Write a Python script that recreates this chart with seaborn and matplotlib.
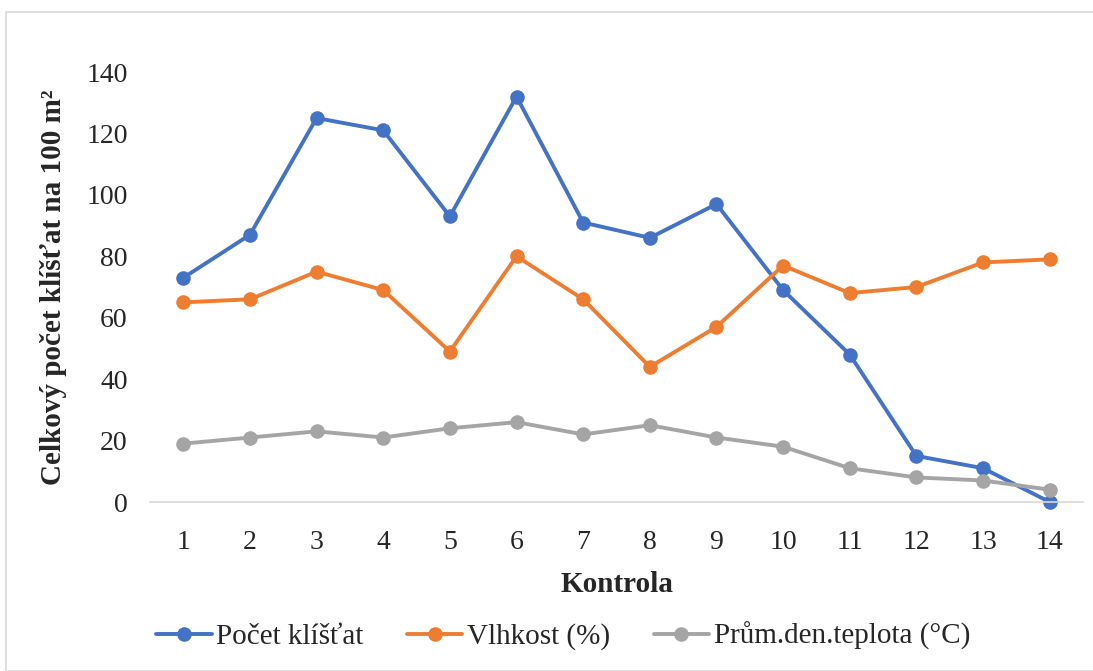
import matplotlib
matplotlib.use("Agg")
import matplotlib.pyplot as plt
import seaborn as sns
import pandas as pd
from matplotlib.patches import Rectangle

kontrola = list(range(1, 15))
pocet_klistat = [73, 87, 125, 121, 93, 132, 91, 86, 97, 69, 48, 15, 11, 0]
vlhkost = [65, 66, 75, 69, 49, 80, 66, 44, 57, 77, 68, 70, 78, 79]
teplota = [19, 21, 23, 21, 24, 26, 22, 25, 21, 18, 11, 8, 7, 4]
series_names = ["Počet klíšťat", "Vlhkost (%)", "Prům.den.teplota (°C)"]
colors = ["#4472C4", "#ED7D31", "#A5A5A5"]
y_ticks = [0, 20, 40, 60, 80, 100, 120, 140]

sns.set_theme(style="white")
plt.rcParams['font.family'] = ['Liberation Serif', 'DejaVu Serif']

fig = plt.figure(figsize=(10.93, 6.71), dpi=100)
ax = fig.add_axes([150/1093, 1-502/671, (1083-150)/1093, (502-72)/671])

for name, vals, c in zip(series_names, [pocet_klistat, vlhkost, teplota], colors):
    df = pd.DataFrame({"Kontrola": kontrola, "v": vals})
    sns.lineplot(data=df, x="Kontrola", y="v", ax=ax, color=c, linewidth=2.8,
                 marker="o", markersize=10.5, markeredgewidth=0, label=name, clip_on=False)

ax.set_xlim(0.5, 14.5)
ax.set_ylim(0, 140)
ax.set_xticks(kontrola)
ax.set_xticklabels([str(k) for k in kontrola], fontsize=20)
ax.set_yticks(y_ticks)
ax.set_yticklabels([str(t) for t in y_ticks], fontsize=20)
ax.tick_params(axis='x', length=0, pad=20)
ax.tick_params(axis='y', length=0, pad=16)
for s in ["top", "right", "left"]:
    ax.spines[s].set_visible(False)
ax.spines["bottom"].set_color("#D9D9D9")
ax.spines["bottom"].set_linewidth(1.2)
ax.set_xlabel("Kontrola", fontsize=21, fontweight="bold", labelpad=12)
ax.set_ylabel("Celkový počet klíšťat na 100 m²", fontsize=21, fontweight="bold", labelpad=14)

ax.legend(loc="center", bbox_to_anchor=(563 / 1093, 1 - 636/671),
          bbox_transform=fig.transFigure, ncol=3, frameon=False, fontsize=21,
          handlelength=1.9, columnspacing=1.5, handletextpad=0.15)

fig.patches.append(Rectangle((6/1093, 0), 1.2, 1 - 12/671, transform=fig.transFigure,
                             fill=False, edgecolor="#D9D9D9", linewidth=1.2))

fig.savefig("out.png", dpi=100)
